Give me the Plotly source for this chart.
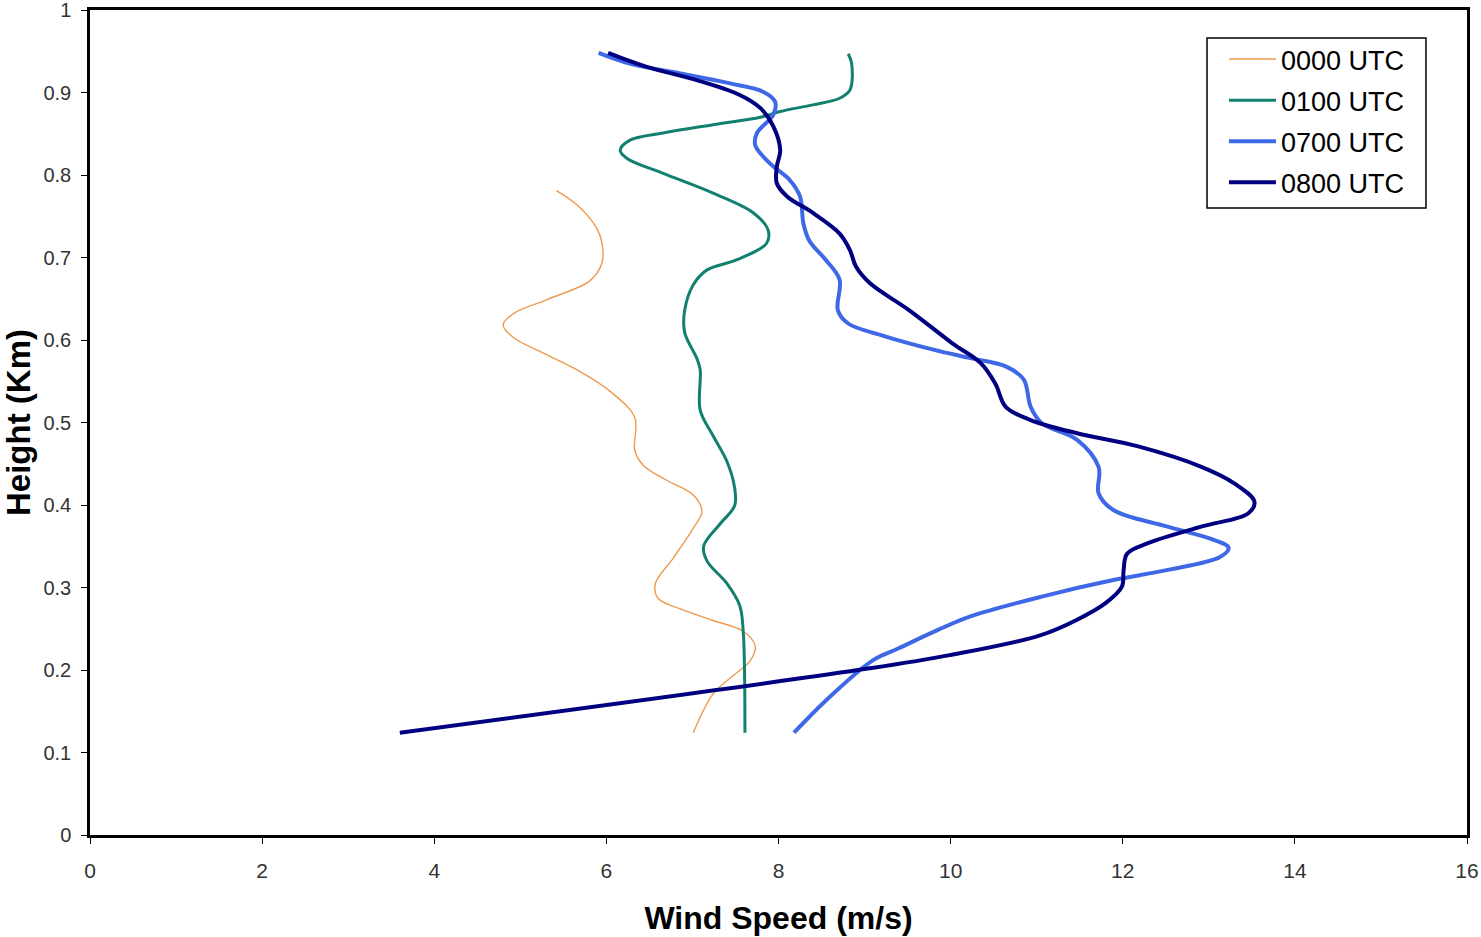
import plotly.graph_objects as go

# ---- data ----
series_names = ["0000 UTC", "0100 UTC", "0700 UTC", "0800 UTC"]

speed_0000 = [5.42, 5.69, 5.89, 5.95, 5.95, 5.81, 5.31, 4.92, 4.80, 4.92, 5.31, 5.69, 6.04, 6.33, 6.33,
              6.43, 6.70, 7.01, 7.11, 7.01, 6.78, 6.57, 6.60, 6.86, 7.24, 7.59, 7.73, 7.67, 7.47, 7.24, 7.01]
height_0000 = [0.781, 0.761, 0.735, 0.717, 0.694, 0.672, 0.649, 0.632, 0.618, 0.603, 0.582, 0.562, 0.538, 0.506, 0.466,
               0.448, 0.430, 0.412, 0.392, 0.372, 0.336, 0.305, 0.287, 0.274, 0.260, 0.247, 0.229, 0.211, 0.193, 0.171, 0.124]

speed_0100 = [8.81, 8.85, 8.83, 8.71, 8.40, 8.02, 7.79, 7.24, 6.66, 6.27, 6.16, 6.24, 6.66, 7.24, 7.71, 7.88, 7.86, 7.51,
              7.17, 7.01, 6.91, 6.91, 7.05, 7.09, 7.09, 7.24, 7.40, 7.49, 7.49, 7.32, 7.13, 7.17, 7.40, 7.55, 7.59, 7.61]
height_0100 = [0.947, 0.935, 0.903, 0.893, 0.885, 0.877, 0.870, 0.861, 0.851, 0.842, 0.830, 0.820, 0.802, 0.778, 0.754, 0.733, 0.717, 0.697,
               0.685, 0.667, 0.636, 0.609, 0.578, 0.564, 0.515, 0.484, 0.453, 0.421, 0.399, 0.377, 0.350, 0.332, 0.305, 0.278, 0.247, 0.124]

speed_0700 = [5.91, 6.27, 6.86, 7.44, 7.82, 7.96, 7.94, 7.75, 7.73, 7.90, 8.13, 8.25, 8.29, 8.36, 8.55, 8.71, 8.69, 8.81,
              9.19, 9.81, 10.23, 10.64, 10.85, 10.93, 11.06, 11.47, 11.72, 11.72, 11.89, 12.51, 13.05, 13.23, 13.13,
              12.51, 11.89, 11.06, 10.23, 9.84, 9.39, 9.10, 8.56, 8.18]
height_0700 = [0.948, 0.935, 0.923, 0.911, 0.901, 0.889, 0.873, 0.851, 0.836, 0.814, 0.794, 0.774, 0.741, 0.720, 0.697, 0.673, 0.636, 0.620,
               0.606, 0.588, 0.578, 0.568, 0.552, 0.519, 0.499, 0.479, 0.446, 0.414, 0.394, 0.374, 0.358, 0.348, 0.337,
               0.321, 0.309, 0.289, 0.265, 0.248, 0.226, 0.212, 0.164, 0.124]

speed_0800 = [6.02, 6.47, 7.05, 7.55, 7.79, 7.94, 8.02, 7.98, 7.98, 8.10, 8.40, 8.71, 8.83, 8.90, 9.06, 9.52, 10.02, 10.35,
              10.52, 10.64, 10.93, 11.47, 12.18, 12.92, 13.30, 13.53, 13.46, 12.92, 12.30, 12.05, 12.01, 11.99, 11.80,
              11.47, 11.04, 9.99, 9.06, 3.60]
height_0800 = [0.948, 0.931, 0.915, 0.897, 0.881, 0.859, 0.830, 0.810, 0.790, 0.774, 0.754, 0.729, 0.709, 0.689, 0.669, 0.636, 0.596, 0.572,
               0.547, 0.519, 0.503, 0.487, 0.471, 0.446, 0.426, 0.404, 0.390, 0.374, 0.354, 0.341, 0.321, 0.301, 0.281,
               0.261, 0.242, 0.218, 0.202, 0.124]

x_ticks = [0, 2, 4, 6, 8, 10, 12, 14, 16]
y_ticks = [0, 0.1, 0.2, 0.3, 0.4, 0.5, 0.6, 0.7, 0.8, 0.9, 1]
y_tick_labels = ["0", "0.1", "0.2", "0.3", "0.4", "0.5", "0.6", "0.7", "0.8", "0.9", "1"]

# ---- styles ----
colors = ["#EE9A4E", "#12806E", "#3F68E6", "#000080"]
widths = [1.4, 3, 4, 4]
speeds = [speed_0000, speed_0100, speed_0700, speed_0800]
heights = [height_0000, height_0100, height_0700, height_0800]

FONT = "Liberation Sans, Arial, sans-serif"

fig = go.Figure()
for name, xs, ys, c, w in zip(series_names, speeds, heights, colors, widths):
    fig.add_trace(go.Scatter(
        x=xs, y=ys, mode="lines", name=name, legendgroup=name,
        line=dict(color=c, width=w, shape="spline", smoothing=1.0),
    ))

# legend frame (drawn as a shape so the padding matches the reference)
fig.add_shape(type="rect", xref="paper", yref="paper",
              x0=0.8112, x1=0.9702, y0=0.760, y1=0.9661,
              line=dict(color="black", width=1.5), fillcolor="white", layer="below")

fig.update_layout(
    width=1481, height=937,
    margin=dict(l=90, r=14, t=10, b=102),
    paper_bgcolor="white", plot_bgcolor="white",
    font=dict(family=FONT, color="#222"),
    showlegend=True,
    legend=dict(
        x=0.8235, y=0.9697, xanchor="left", yanchor="top",
        bgcolor="rgba(0,0,0,0)", borderwidth=0,
        font=dict(size=27, color="black", family=FONT),
        tracegroupgap=3, itemwidth=47,
    ),
)

fig.update_xaxes(
    range=[0, 16], tickvals=x_ticks, ticktext=[str(v) for v in x_ticks],
    showgrid=False, zeroline=False, automargin=False,
    showline=True, linecolor="black", linewidth=2.5, mirror=True,
    ticks="outside", ticklen=6, tickcolor="black", tickwidth=1,
    ticklabelstandoff=9, ticklabeloverflow="allow",
    tickfont=dict(size=21, color="#333"),
    title=dict(text="<b>Wind Speed (m/s)</b>", font=dict(size=32, color="black"), standoff=26),
)
fig.update_yaxes(
    range=[0, 1], tickvals=y_ticks, ticktext=y_tick_labels,
    showgrid=False, zeroline=False, automargin=False,
    showline=True, linecolor="black", linewidth=2.5, mirror=True,
    ticks="outside", ticklen=6, tickcolor="black", tickwidth=1,
    ticklabelstandoff=6, ticklabeloverflow="allow",
    tickfont=dict(size=20, color="#333"),
    title=dict(text="<b>Height (Km)</b>", font=dict(size=33, color="black"), standoff=6),
)

fig.write_html(
    "out.html",
    config={"displayModeBar": False},
    post_script="document.body.style.margin='0';document.body.style.overflow='hidden';",
)
